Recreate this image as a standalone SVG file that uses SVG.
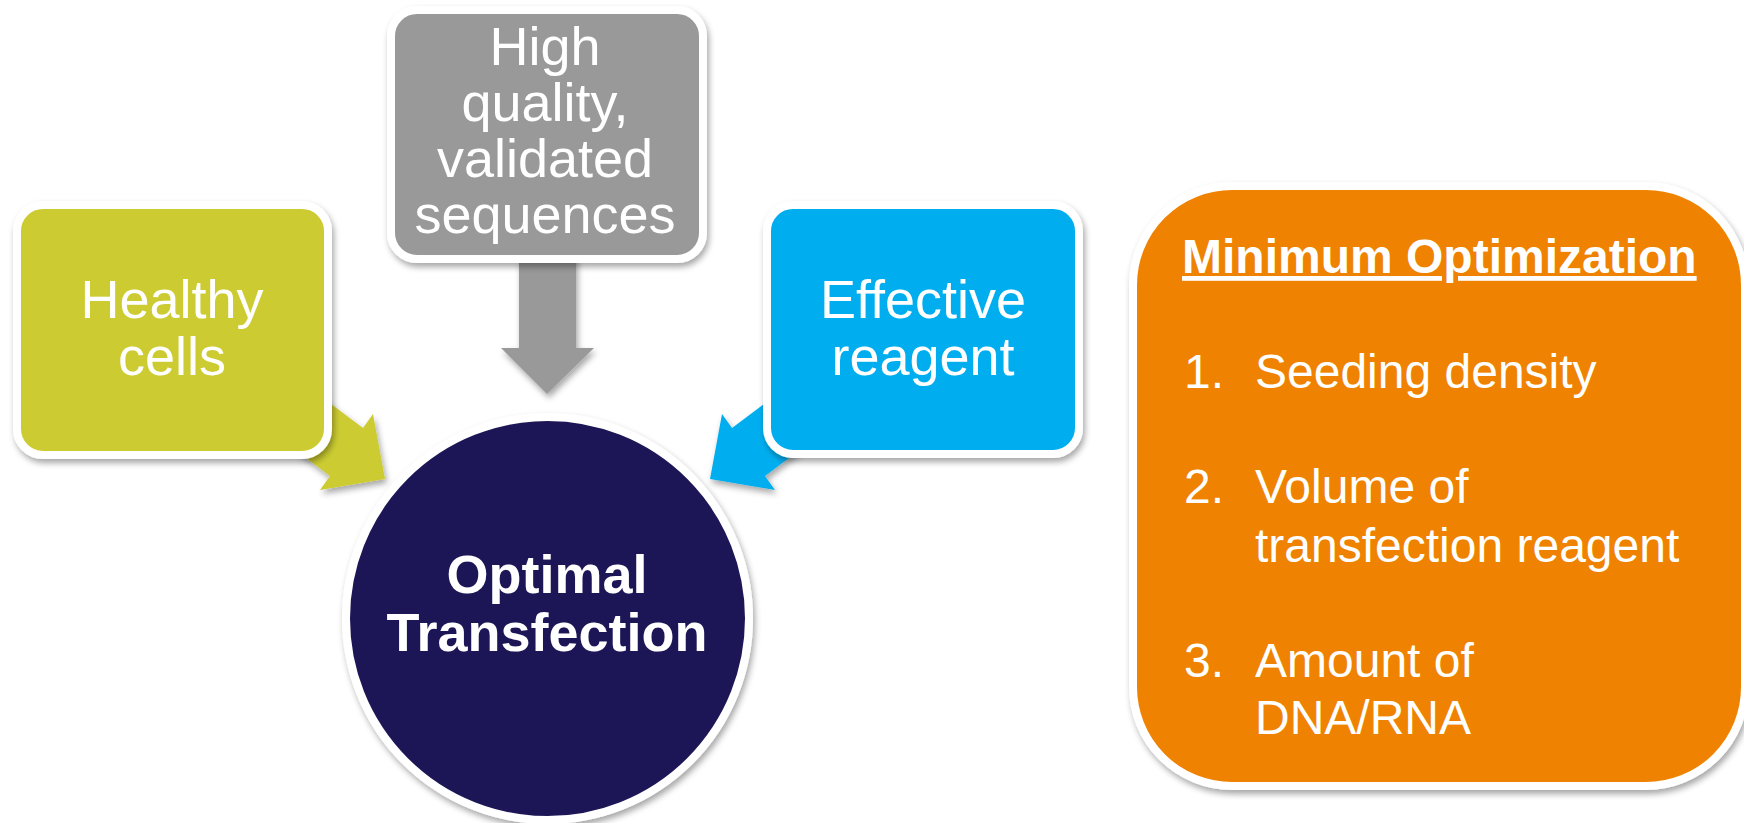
<svg xmlns="http://www.w3.org/2000/svg" width="1744" height="823" viewBox="0 0 1744 823">
  <defs>
    <filter id="sh" x="-10%" y="-10%" width="125%" height="125%">
      <feDropShadow dx="2" dy="4" stdDeviation="3" flood-color="#000" flood-opacity="0.35"/>
    </filter>
  </defs>
  <style>
    .box { stroke: #ffffff; stroke-width: 8; filter: url(#sh); }
    .t { font-family: "Liberation Sans", Arial, sans-serif; fill: #ffffff; font-size: 54px; }
    .c { text-anchor: middle; }
    .b { font-weight: bold; }
    .o { font-size: 48px; }
  </style>
  <rect width="1744" height="823" fill="#ffffff"/>
  <g id="connectors">
    <polygon points="315,392 363,428 373,414 385,479 320,490 330,476 282,440" fill="#cccc33" filter="url(#sh)"/>
    <polygon points="519,250 576,250 576,348 594,348 547,394 501,348 519,348" fill="#999999" filter="url(#sh)"/>
    <polygon points="780,392 732,428 722,414 710,479 775,490 765,476 813,440" fill="#00aeef" filter="url(#sh)"/>
  </g>
  <g id="node-healthy">
    <rect class="box" x="17" y="205" width="311" height="250" rx="26" fill="#cccc33"/>
    <text class="t c" x="172" y="318">Healthy</text>
    <text class="t c" x="172" y="375">cells</text>
  </g>
  <g id="node-sequences">
    <rect class="box" x="391" y="10" width="312" height="249" rx="26" fill="#999999"/>
    <text class="t c" x="545" y="65">High</text>
    <text class="t c" x="545" y="121">quality,</text>
    <text class="t c" x="545" y="177">validated</text>
    <text class="t c" x="545" y="233">sequences</text>
  </g>
  <g id="node-reagent">
    <rect class="box" x="767" y="205" width="312" height="249" rx="26" fill="#00aeef"/>
    <text class="t c" x="923" y="318">Effective</text>
    <text class="t c" x="923" y="375">reagent</text>
  </g>
  <g id="node-optimal">
    <circle cx="547.5" cy="618.5" r="201.5" fill="#1e1957" stroke="#ffffff" stroke-width="8" filter="url(#sh)"/>
    <text class="t c b" x="547" y="593" font-size="51">Optimal</text>
    <text class="t c b" x="547" y="651" font-size="51">Transfection</text>
  </g>
  <g id="node-minimum">
    <rect class="box" x="1133" y="186" width="612" height="600" rx="99" fill="#ef8200"/>
    <text class="t b o" x="1182" y="273" text-decoration="underline">Minimum Optimization</text>
    <text class="t o" x="1184" y="388">1.</text>
    <text class="t o" x="1255" y="388">Seeding density</text>
    <text class="t o" x="1184" y="503">2.</text>
    <text class="t o" x="1255" y="503">Volume of</text>
    <text class="t o" x="1255" y="562">transfection reagent</text>
    <text class="t o" x="1184" y="677">3.</text>
    <text class="t o" x="1255" y="677">Amount of</text>
    <text class="t o" x="1255" y="734">DNA/RNA</text>
  </g>
</svg>
